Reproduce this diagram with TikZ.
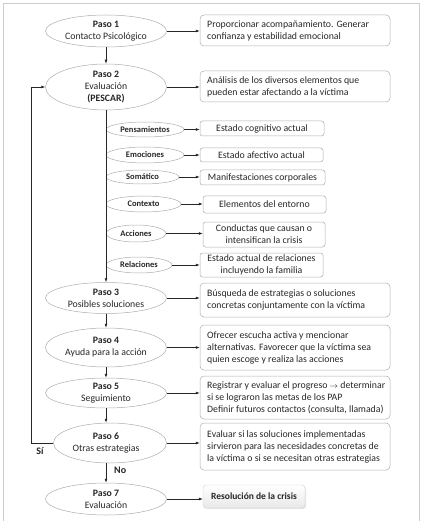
\documentclass[tikz,border=0pt]{standalone}
\usepackage{fontspec}
\setmainfont{Carlito}
\usetikzlibrary{shapes.geometric,arrows.meta,shadows}
\newcommand{\smallarr}{{\fontsize{8}{8}\selectfont$\rightarrow$}}
\begin{document}
\begin{tikzpicture}[x=1pt,y=-1pt,
  font=\fontsize{9.8}{12}\selectfont,
  txt/.style={text=black!85, inner sep=0pt},
  big/.style={draw=gray!65, ellipse, minimum width=121pt, inner sep=0pt, line width=0.5pt},
  sub/.style={draw=gray!65, ellipse, inner sep=0pt, line width=0.5pt, text=black!85, font=\fontsize{8.5}{10}\selectfont\bfseries},
  box/.style={draw=gray!65, rounded corners=4pt, minimum width=190pt, inner sep=0pt, line width=0.5pt},
  sbox/.style={draw=gray!65, rounded corners=2.5pt, inner sep=0pt, line width=0.5pt, text=black!85, align=center},
  fin/.style={draw=gray!35, rounded corners=3pt, inner sep=0pt, top color=white, bottom color=gray!18, drop shadow={opacity=0.2, shadow xshift=1pt, shadow yshift=-1pt}, text=black!85, font=\fontsize{9.5}{11}\selectfont\bfseries},
  arr/.style={-{Latex[length=4pt,width=3pt]}, line width=0.6pt, draw=black!85},
  lbl/.style={text=black!85, inner sep=0pt, font=\fontsize{10}{11}\selectfont\bfseries}
]
\useasboundingbox (0,0) rectangle (422,521);
\draw[gray!40, line width=1.3pt] (3.5,521) -- (3.5,3.5) -- (419.5,3.5) -- (419.5,521);

% main ellipses
\node[big, minimum height=32pt] (p1) at (106,31) {};
\node[txt, align=center] (p1t) at (p1.center) {\textbf{Paso 1}\\Contacto Psicológico};
\node[big, minimum height=46pt] (p2) at (106,87) {};
\node[txt, align=center] (p2t) at (p2.center) {\textbf{Paso 2}\\Evaluación\\\textbf{(PESCAR)}};
\node[big, minimum height=31pt] (p3) at (106,298) {};
\node[txt, align=center] (p3t) at (p3.center) {\textbf{Paso 3}\\Posibles soluciones};
\node[big, minimum height=39pt] (p4) at (106,347.5) {};
\node[txt, align=center] (p4t) at (p4.center) {\textbf{Paso 4}\\Ayuda para la acción};
\node[big, minimum height=30pt] (p5) at (106,393) {};
\node[txt, align=center] (p5t) at (p5.center) {\textbf{Paso 5}\\Seguimiento};
\node[big, minimum width=113pt, minimum height=40pt] (p6) at (110,443) {};
\node[txt, align=center] (p6t) at (106,443) {\textbf{Paso 6}\\Otras estrategias};
\node[big, minimum height=32pt] (p7) at (106,499) {};
\node[txt, align=center] (p7t) at (p7.center) {\textbf{Paso 7}\\Evaluación};

% main boxes
\node[box, minimum height=31pt] (b1) at (295,30.5) {};
\node[txt, align=left, anchor=west] (b1t) at (207,30.5) {Proporcionar acompañamiento. Generar\\confianza y estabilidad emocional};
\node[box, minimum height=31pt] (b2) at (295,86.5) {};
\node[txt, align=left, anchor=west] (b2t) at (207,86.5) {Análisis de los diversos elementos que\\pueden estar afectando a la víctima};
\node[box, minimum height=34pt] (b3) at (295,300) {};
\node[txt, align=left, anchor=west] (b3t) at (207,300) {Búsqueda de estrategias o soluciones\\concretas conjuntamente con la víctima};
\node[box, minimum height=45pt] (b4) at (295,347.5) {};
\node[txt, align=left, anchor=west] (b4t) at (207,347.5) {Ofrecer escucha activa y mencionar\\alternativas. Favorecer que la víctima sea\\quien escoge y realiza las acciones};
\node[box, minimum height=43pt] (b5) at (295,397.5) {};
\node[txt, align=left, anchor=west] (b5t) at (207,397.5) {Registrar y evaluar el progreso \smallarr{} determinar\\si se lograron las metas de los PAP\\Definir futuros contactos (consulta, llamada)};
\node[box, minimum height=47pt] (b6) at (295,446.5) {};
\node[txt, align=left, anchor=west] (b6t) at (207,446.5) {Evaluar si las soluciones implementadas\\sirvieron para las necesidades concretas de\\la víctima o si se necesitan otras estrategias};
\node[fin, minimum width=102pt, minimum height=23pt] (b7) at (254,496.5) {Resolución de la crisis};

% sub ellipses
\node[sub, minimum width=78pt, minimum height=15pt] (e1) at (145,129.5) {Pensamientos};
\node[sub, minimum width=78pt, minimum height=16pt] (e2) at (145,155) {Emociones};
\node[sub, minimum width=73pt, minimum height=14pt] (e3) at (142.5,177) {Somático};
\node[sub, minimum width=75pt, minimum height=16pt] (e4) at (143.5,204) {Contexto};
\node[sub, minimum width=60pt, minimum height=17pt] (e5) at (136,233.5) {Acciones};
\node[sub, minimum width=66pt, minimum height=16pt] (e6) at (139,265) {Relaciones};

% sub boxes
\node[sbox, minimum width=124pt, minimum height=15pt] (s1) at (262,128.5) {Estado cognitivo actual};
\node[sbox, minimum width=123pt, minimum height=14pt] (s2) at (261.5,155) {Estado afectivo actual};
\node[sbox, minimum width=125pt, minimum height=15pt] (s3) at (262.5,177.5) {Manifestaciones corporales};
\node[sbox, minimum width=123pt, minimum height=17pt] (s4) at (264.5,204.5) {Elementos del entorno};
\node[sbox, minimum width=122pt, minimum height=25pt] (s5) at (264,234.5) {Conductas que causan o\\intensifican la crisis};
\node[sbox, minimum width=123pt, minimum height=24pt] (s6) at (261.5,265) {Estado actual de relaciones\\incluyendo la familia};

% vertical flow
\draw[arr] (p1.south) -- (p2.north);
\draw[arr] (p2.south) -- (p3.north);
\draw[arr] (p3.south) -- (p4.north);
\draw[arr] (p4.south) -- (p5.north);
\draw[arr] (p5.south) -- (p5.south |- p6.north);
\draw[arr] (p6.south -| p7.north) -- (p7.north);
\node[lbl, anchor=west] (no) at (114,470) {No};

% feedback loop
\draw[arr] (p6.west) -- ++(-22,0) |- (p2.west);
\node[lbl] (si) at (40,451) {Sí};

% horizontal arrows
\foreach \a/\b in {p1/b1,p2/b2,p3/b3,p4/b4,p5/b5,p6/b6,p7/b7,e1/s1,e2/s2,e3/s3,e4/s4,e5/s5,e6/s6}
  \draw[arr] (\a.east) -- (\a.east -| \b.west);
\end{tikzpicture}
\end{document}
